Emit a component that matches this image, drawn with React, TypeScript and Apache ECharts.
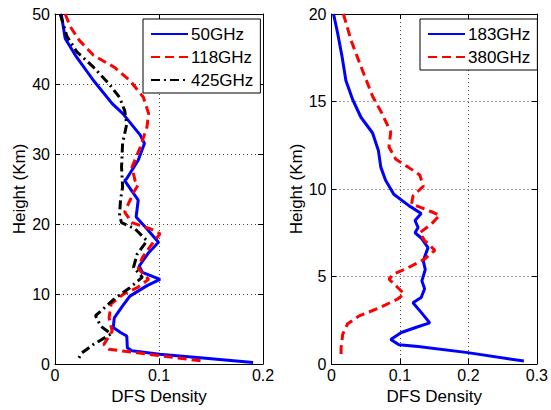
import React, { useEffect, useRef } from "react";
import * as echarts from "echarts";

// Left panel: [DFS density, height km]
const ghz50: number[][] = [
  [0.006, 50], [0.0098, 46.5], [0.0196, 44.1], [0.037, 40.5], [0.055, 37.2], [0.065, 35.8],
  [0.082, 32.7], [0.086, 31.5], [0.080, 29.1], [0.069, 26.5], [0.067, 26.2], [0.080, 23.4],
  [0.078, 21], [0.0885, 19.3], [0.0995, 17.4], [0.09, 15.9], [0.081, 14], [0.084, 13.1],
  [0.101, 12.1], [0.0885, 11.2], [0.072, 9.7], [0.065, 8.3], [0.057, 6.6], [0.056, 5.2],
  [0.063, 4.5], [0.069, 4.0], [0.0696, 2.3], [0.074, 1.9], [0.1005, 1.4], [0.1395, 0.9], [0.1905, 0.2],
];
const ghz118: number[][] = [
  [0.0098, 50], [0.0147, 48.2], [0.023, 46.3], [0.037, 44.1], [0.057, 42.4], [0.072, 40.5],
  [0.085, 38.1], [0.09, 35.8], [0.0885, 33.9], [0.082, 31], [0.074, 28.1], [0.077, 26.2],
  [0.080, 25.6], [0.0755, 24.5], [0.067, 21.7], [0.074, 20.2], [0.092, 19.3], [0.101, 18.6],
  [0.092, 16.9], [0.084, 15.2], [0.080, 13.6], [0.09, 12.1], [0.079, 10.9], [0.066, 10],
  [0.054, 8.6], [0.052, 6.6], [0.055, 4.7], [0.047, 2.8], [0.052, 2.1], [0.079, 1.6], [0.143, 0.4],
];
const ghz425: number[][] = [
  [0.005, 50], [0.0115, 46.8], [0.021, 44.6], [0.037, 42.4], [0.052, 40], [0.062, 38.1],
  [0.067, 36.2], [0.069, 34.3], [0.065, 31.5], [0.064, 28.1], [0.065, 25.3], [0.063, 23.4],
  [0.062, 21.2], [0.064, 20.2], [0.077, 19.3], [0.0885, 17.6], [0.079, 15.7], [0.0755, 13.8],
  [0.084, 12.4], [0.072, 10.9], [0.057, 9.3], [0.039, 6.9], [0.044, 5.4], [0.054, 4.3],
  [0.037, 2.8], [0.026, 1.6], [0.021, 0.4],
];
// Right panel
const ghz183: number[][] = [
  [0.003, 20], [0.009, 18.9], [0.0155, 17.55], [0.021, 16.2], [0.031, 15.1], [0.043, 14.1],
  [0.06, 13.2], [0.0685, 12.2], [0.072, 11.25], [0.079, 10.5], [0.091, 9.7], [0.113, 9.05],
  [0.131, 8.6], [0.122, 8.2], [0.1265, 7.8], [0.122, 7.5], [0.131, 7.2], [0.141, 6.65],
  [0.134, 5.9], [0.137, 5.4], [0.132, 4.75], [0.136, 4.3], [0.131, 3.8], [0.119, 3.5],
  [0.131, 2.95], [0.1435, 2.35], [0.124, 2.1], [0.102, 1.8], [0.0865, 1.4], [0.0985, 1.1],
  [0.1265, 1.0], [0.199, 0.65], [0.281, 0.17],
];
const ghz380: number[][] = [
  [0.0174, 20], [0.0285, 18.5], [0.043, 17], [0.06, 15.3], [0.074, 14.3], [0.0865, 13.25],
  [0.084, 12.4], [0.094, 11.7], [0.112, 11.25], [0.129, 10.8], [0.134, 10.15], [0.119, 9.6],
  [0.117, 9.15], [0.146, 8.7], [0.158, 8.5], [0.146, 8.0], [0.129, 7.5], [0.136, 7.05],
  [0.151, 6.5], [0.136, 6.0], [0.112, 5.5], [0.091, 5.15], [0.084, 4.85], [0.096, 4.4],
  [0.106, 4.0], [0.096, 3.7], [0.0695, 3.2], [0.0405, 2.75], [0.0236, 2.3], [0.0164, 1.7],
  [0.014, 0.93], [0.014, 0.46],
];

const leftXTicks = { min: 0, max: 0.2, interval: 0.1 };
const rightXTicks = { min: 0, max: 0.3, interval: 0.1 };
const leftYTicks = { min: 0, max: 50, interval: 10 };
const rightYTicks = { min: 0, max: 20, interval: 5 };

const FONT = "Liberation Sans, Arial, sans-serif";

export default function App() {
  const ref = useRef<HTMLDivElement>(null);
  useEffect(() => {
    if (!ref.current) return;
    const chart = echarts.init(ref.current, undefined, { renderer: "svg" });
    const labelStyle = { color: "#000", fontSize: 16, fontFamily: FONT };
    const nameStyle = { color: "#000", fontSize: 17, fontFamily: FONT };
    const split = { show: true, lineStyle: { color: "#444", type: [1, 3] as any, width: 1 } };
    const tick = { show: true, inside: true, length: 5, lineStyle: { color: "#000" } };
    const axLine = { show: true, onZero: false, lineStyle: { color: "#000", width: 1 } };
    const mainX = (gi: number, t: any) => ({
      type: "value", gridIndex: gi, ...t, position: "bottom",
      name: "DFS Density", nameLocation: "middle", nameGap: 16, nameTextStyle: nameStyle,
      axisLine: axLine, axisTick: tick,
      axisLabel: { ...labelStyle, margin: 3, formatter: (v: number) => String(Math.round(v * 10) / 10) },
      splitLine: split,
    });
    const boxX = (gi: number, t: any) => ({
      type: "value", gridIndex: gi, ...t, position: "top",
      axisLine: axLine, axisTick: tick, axisLabel: { show: false }, splitLine: { show: false },
    });
    const mainY = (gi: number, t: any, gap: number) => ({
      type: "value", gridIndex: gi, ...t, position: "left",
      name: "Height (Km)", nameLocation: "middle", nameGap: gap, nameTextStyle: nameStyle,
      axisLine: axLine, axisTick: tick,
      axisLabel: { ...labelStyle, margin: 5 },
      splitLine: split,
    });
    const boxY = (gi: number, t: any) => ({
      type: "value", gridIndex: gi, ...t, position: "right",
      axisLine: axLine, axisTick: tick, axisLabel: { show: false }, splitLine: { show: false },
    });
    const line = (name: string, data: number[][], color: string, type: any, xi: number, yi: number) => ({
      name, type: "line", data, xAxisIndex: xi, yAxisIndex: yi,
      showSymbol: false, symbol: "none",
      lineStyle: { color, width: 3, type },
      itemStyle: { color },
    });
    const legendBase = {
      orient: "vertical", backgroundColor: "#fff", borderColor: "#000", borderWidth: 1,
      itemWidth: 37, itemHeight: 14, itemGap: 5, padding: [6, 7, 4, 7], borderRadius: 0,
      itemStyle: { opacity: 0 },
      textStyle: { color: "#000", fontSize: 17, lineHeight: 18, fontFamily: FONT, padding: [0, 0, 0, -2] },
    };
    chart.setOption({
      animation: false,
      backgroundColor: "#fff",
      grid: [
        { left: 55, right: 288, top: 14, bottom: 46 },
        { left: 331.5, right: 12, top: 14, bottom: 46 },
      ],
      xAxis: [mainX(0, leftXTicks), boxX(0, leftXTicks), mainX(1, rightXTicks), boxX(1, rightXTicks)],
      yAxis: [mainY(0, leftYTicks, 26), boxY(0, leftYTicks), mainY(1, rightYTicks, 25), boxY(1, rightYTicks)],
      legend: [
        { ...legendBase, data: ["50GHz", "118GHz", "425GHz"], left: 143, top: 19 },
        { ...legendBase, data: ["183GHz", "380GHz"], left: 420, top: 19 },
      ],
      series: [
        line("50GHz", ghz50, "#0000ff", "solid", 0, 0),
        line("118GHz", ghz118, "#ff0000", [9, 5], 0, 0),
        line("425GHz", ghz425, "#000000", [9, 4, 2, 4], 0, 0),
        line("183GHz", ghz183, "#0000ff", "solid", 2, 2),
        line("380GHz", ghz380, "#ff0000", [9, 5], 2, 2),
      ],
    });
    return () => chart.dispose();
  }, []);
  return <div ref={ref} style={{ width: 551, height: 410, position: "absolute", left: 0, top: 0 }} />;
}
